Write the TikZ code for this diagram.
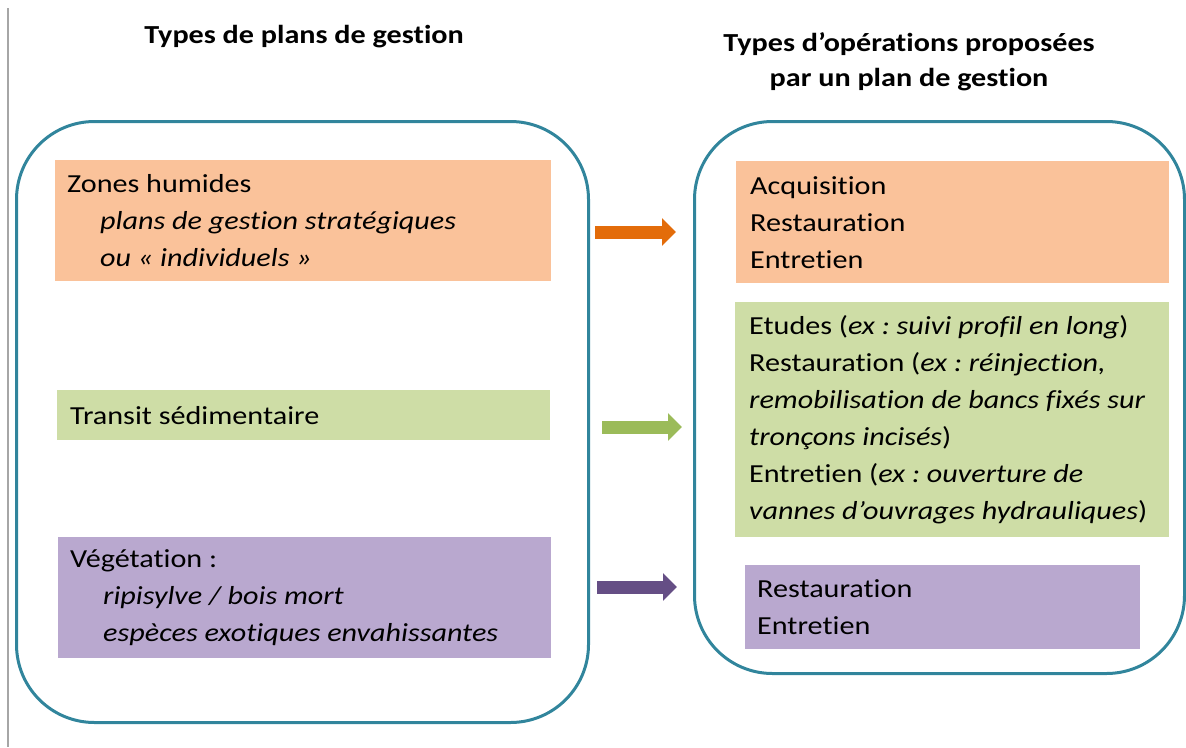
\documentclass[tikz,border=0pt]{standalone}
\usepackage{fontspec}
\setmainfont{Carlito}[FakeStretch=1.16, Ligatures={NoCommon}]
\usetikzlibrary{arrows.meta}
\frenchspacing
\definecolor{teal}{HTML}{31859C}
\definecolor{orfill}{HTML}{FAC29A}
\definecolor{grfill}{HTML}{CEDDA6}
\definecolor{pufill}{HTML}{B9A8CF}
\definecolor{orarrow}{HTML}{E36C0A}
\definecolor{grarrow}{HTML}{9BBB59}
\definecolor{puarrow}{HTML}{654E85}
\definecolor{rule}{HTML}{A6A6A6}
\tikzset{
  frame/.style={draw=teal, line width=3pt, rounded corners=78pt, anchor=north west, inner sep=0pt},
  box/.style={anchor=north west, inner sep=0pt, draw=none},
  txt/.style={anchor=west, align=left, inner sep=0pt, font={\fontsize{26pt}{37pt}\selectfont\frenchspacing}},
  ttl/.style={align=center, inner sep=0pt, font={\fontsize{26pt}{35pt}\selectfont\bfseries}},
  bigarrow/.style={line width=13pt, -{Triangle[length=14pt,width=27pt]}}
}
\newcommand{\ind}{\hspace*{33pt}}
\begin{document}
\begin{tikzpicture}[x=1pt,y=-1pt]
\useasboundingbox (0,0) rectangle (1186,747);
% left rule
\coordinate (r1) at (8,8);
\coordinate (r2) at (8,747);
\draw[rule, line width=2pt] (r1) -- (r2);
% titles
\node[ttl] (t1) at (304,37) {Types de plans de gestion};
\node[ttl] (t2) at (909,62) {Types d’opérations proposées\\par un plan de gestion};
% frames
\node[frame, minimum width=572pt, minimum height=601pt] (lf) at (15,120) {};
\node[frame, minimum width=490pt, minimum height=552pt] (rf) at (693,120) {};
% left boxes
\node[box, fill=orfill, minimum width=496pt, minimum height=121pt] (lo) at (55,160) {};
\node[txt] (lot) at ([xshift=12pt]lo.west) {Zones humides\\\ind\textit{plans de gestion stratégiques}\\\ind\textit{ou « individuels »}};
\node[box, fill=grfill, minimum width=493pt, minimum height=50pt] (lg) at (57,390) {};
\node[txt] (lgt) at ([xshift=13pt]lg.west) {Transit sédimentaire};
\node[box, fill=pufill, minimum width=493pt, minimum height=121pt] (lp) at (58,537) {};
\node[txt] (lpt) at ([xshift=12pt]lp.west) {Végétation :\\\ind\textit{ripisylve / bois mort}\\\ind\textit{espèces exotiques envahissantes}};
% right boxes
\node[box, fill=orfill, minimum width=433pt, minimum height=122pt] (ro) at (736,161) {};
\node[txt] (rot) at ([xshift=14pt]ro.west) {Acquisition\\Restauration\\Entretien};
\node[box, fill=grfill, minimum width=434pt, minimum height=235pt] (rg) at (735,302) {};
\node[txt] (rgt) at ([xshift=14pt]rg.west) {Etudes (\textit{ex : suivi profil en long})\\Restauration (\textit{ex : réinjection,}\\\textit{remobilisation de bancs fixés sur}\\\textit{tronçons incisés})\\Entretien (\textit{ex : ouverture de}\\\textit{vannes d’ouvrages hydrauliques})};
\node[box, fill=pufill, minimum width=395pt, minimum height=84pt] (rp) at (745,565) {};
\node[txt] (rpt) at ([xshift=12pt]rp.west) {Restauration\\Entretien};
% arrows
\coordinate (a1s) at (595,232); \coordinate (a1e) at (676,232);
\coordinate (a2s) at (602,427); \coordinate (a2e) at (682,427);
\coordinate (a3s) at (597,587); \coordinate (a3e) at (677,587);
\draw[bigarrow, orarrow] (a1s) -- (a1e);
\draw[bigarrow, grarrow] (a2s) -- (a2e);
\draw[bigarrow, puarrow] (a3s) -- (a3e);
\end{tikzpicture}
\end{document}
